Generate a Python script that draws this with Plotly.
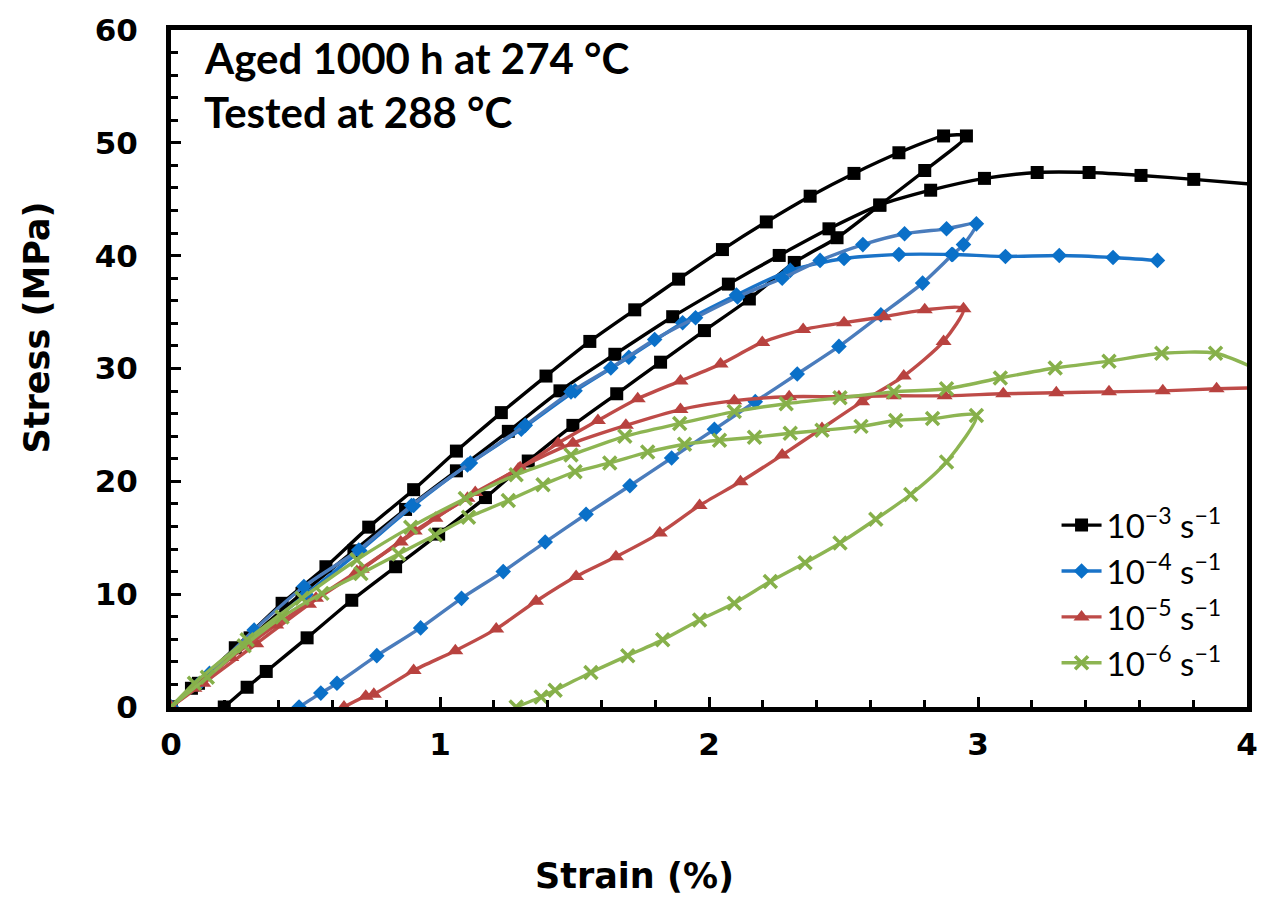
import plotly.graph_objects as go

# ---------------- data (strain in %, stress in MPa) ----------------
# 10^-3 s^-1 : load/unload cycle
strain_r3_cycle = [0, 0.076, 0.239, 0.413, 0.576, 0.735, 0.902, 1.061, 1.228, 1.394, 1.557, 1.724,
                   1.887, 2.050, 2.213, 2.376, 2.539, 2.706, 2.872, 2.957,
                   2.802, 2.635, 2.476, 2.317, 2.150, 1.983, 1.820, 1.657, 1.494, 1.328, 1.169,
                   0.995, 0.835, 0.672, 0.506, 0.354, 0.283, 0.198]
stress_r3_cycle = [0, 1.66, 5.25, 9.19, 12.43, 15.94, 19.26, 22.68, 26.09, 29.33, 32.40, 35.20,
                   37.92, 40.54, 42.99, 45.27, 47.29, 49.12, 50.61, 50.61,
                   47.55, 44.48, 41.59, 39.40, 36.16, 33.36, 30.56, 27.76, 24.96, 21.80, 18.56,
                   15.32, 12.43, 9.46, 6.13, 3.15, 1.75, 0]
# 10^-3 s^-1 : monotonic
strain_r3_mono = [0, 0.102, 0.294, 0.487, 0.680, 0.872, 1.061, 1.254, 1.446, 1.650, 1.865, 2.072,
                  2.261, 2.446, 2.635, 2.824, 3.024, 3.220, 3.413, 3.606, 3.802, 4.04]
stress_r3_mono = [0, 2.10, 6.13, 10.07, 13.84, 17.51, 20.93, 24.43, 28.02, 31.26, 34.59, 37.48,
                  40.02, 42.38, 44.48, 45.80, 46.85, 47.37, 47.37, 47.11, 46.76, 46.30]

# 10^-4 s^-1 : load/unload cycle
strain_r4_cycle = [0, 0.143, 0.309, 0.494, 0.698, 0.894, 1.113, 1.317, 1.487, 1.635, 1.798, 1.950,
                   2.106, 2.272, 2.413, 2.572, 2.727, 2.883, 2.994,
                   2.946, 2.906, 2.794, 2.639, 2.483, 2.328, 2.172, 2.020, 1.861, 1.706, 1.543,
                   1.391, 1.235, 1.080, 0.928, 0.765, 0.617, 0.557, 0.476]
stress_r4_cycle = [0, 2.98, 6.83, 10.68, 13.92, 17.86, 21.63, 24.96, 27.93, 30.04, 32.57, 34.50,
                   36.34, 38.00, 39.58, 40.98, 41.94, 42.38, 42.82,
                   40.98, 40.11, 37.57, 34.76, 31.96, 29.51, 27.06, 24.61, 22.07, 19.61, 17.08,
                   14.62, 12.00, 9.63, 7.01, 4.55, 2.10, 1.23, 0]
# 10^-4 s^-1 : monotonic
strain_r4_mono = [0, 0.102, 0.302, 0.502, 0.702, 0.902, 1.102, 1.302, 1.502, 1.702, 1.902, 2.102,
                  2.302, 2.502, 2.706, 2.902, 3.102, 3.302, 3.502, 3.667]
stress_r4_mono = [0, 2.01, 6.13, 9.98, 13.84, 17.86, 21.45, 24.61, 28.02, 31.00, 34.06, 36.51,
                  38.70, 39.75, 40.11, 40.11, 39.93, 40.02, 39.84, 39.58]

# 10^-5 s^-1 : load/unload cycle
strain_r5_cycle = [0, 0.087, 0.224, 0.391, 0.539, 0.691, 0.854, 0.983, 1.131, 1.291, 1.439, 1.587,
                   1.735, 1.894, 2.043, 2.198, 2.350, 2.502, 2.650, 2.802, 2.946,
                   2.872, 2.724, 2.569, 2.420, 2.272, 2.117, 1.965, 1.817, 1.654, 1.506, 1.357,
                   1.209, 1.057, 0.902, 0.754, 0.724, 0.643]
stress_r5_cycle = [0, 1.66, 4.38, 7.27, 9.63, 12.00, 14.62, 16.73, 19.00, 21.10, 23.38, 25.39,
                   27.32, 28.90, 30.39, 32.31, 33.45, 34.06, 34.59, 35.20, 35.29,
                   32.40, 29.33, 27.06, 24.69, 22.33, 19.96, 17.86, 15.41, 13.31, 11.56, 9.37,
                   6.92, 4.99, 3.24, 1.14, 0.96, 0]
# 10^-5 s^-1 : monotonic
strain_r5_mono = [0, 0.120, 0.317, 0.513, 0.709, 0.906, 1.102, 1.298, 1.494, 1.691, 1.894, 2.094,
                  2.298, 2.483, 2.687, 2.876, 3.094, 3.291, 3.487, 3.687, 3.887, 4.04]
stress_r5_mono = [0, 2.10, 5.60, 9.10, 12.20, 15.60, 18.50, 21.20, 23.38, 24.96, 26.36, 27.15,
                  27.50, 27.50, 27.58, 27.58, 27.76, 27.85, 27.93, 28.02, 28.20, 28.30]

# 10^-6 s^-1 : load/unload cycle
strain_r6_cycle = [0, 0.135, 0.272, 0.413, 0.561, 0.706, 0.846, 0.983, 1.106, 1.254, 1.383, 1.502,
                   1.631, 1.772, 1.909, 2.039, 2.169, 2.302, 2.420, 2.565, 2.694, 2.831, 2.994,
                   2.883, 2.750, 2.620, 2.487, 2.357, 2.228, 2.094, 1.965, 1.828, 1.698, 1.561,
                   1.428, 1.376, 1.283]
stress_r6_cycle = [0, 2.63, 5.43, 7.97, 10.07, 11.82, 13.57, 15.24, 16.81, 18.30, 19.70, 20.84,
                   21.63, 22.59, 23.29, 23.64, 23.91, 24.26, 24.52, 24.87, 25.39, 25.57, 25.83,
                   21.72, 18.83, 16.64, 14.54, 12.78, 11.12, 9.19, 7.71, 5.95, 4.55, 3.06,
                   1.49, 0.88, 0]
# 10^-6 s^-1 : monotonic
strain_r6_mono = [0, 0.087, 0.283, 0.487, 0.691, 0.891, 1.094, 1.283, 1.487, 1.687, 1.891, 2.094,
                  2.287, 2.487, 2.687, 2.883, 3.083, 3.287, 3.487, 3.683, 3.883, 4.04]
stress_r6_mono = [0, 2.10, 5.95, 9.63, 13.05, 15.94, 18.48, 20.58, 22.33, 23.99, 25.13, 26.18,
                  26.88, 27.41, 27.93, 28.20, 29.16, 30.04, 30.65, 31.35, 31.35, 29.90]

rate_labels = ["10<sup>\u22123</sup> s<sup>\u22121</sup>",
               "10<sup>\u22124</sup> s<sup>\u22121</sup>",
               "10<sup>\u22125</sup> s<sup>\u22121</sup>",
               "10<sup>\u22126</sup> s<sup>\u22121</sup>"]

# ---------------- styling ----------------
series = [
    # (label, curves, line colours, marker colour, symbol, marker size)
    (rate_labels[0], [(strain_r3_mono, stress_r3_mono), (strain_r3_cycle, stress_r3_cycle)],
     ["#000000", "#000000"], "#000000", "square", 13),
    (rate_labels[1], [(strain_r4_mono, stress_r4_mono), (strain_r4_cycle, stress_r4_cycle)],
     ["#1a73c8", "#4a7cbc"], "#0a70c8", "diamond", 12),
    (rate_labels[2], [(strain_r5_mono, stress_r5_mono), (strain_r5_cycle, stress_r5_cycle)],
     ["#be4b48", "#be4b48"], "#b8423f", "triangle-up", 14),
    (rate_labels[3], [(strain_r6_mono, stress_r6_mono), (strain_r6_cycle, stress_r6_cycle)],
     ["#8db552", "#8db552"], "#86b04a", "x-thin", 13),
]

fig = go.Figure()
for label, curves, line_cols, mcol, sym, msize in series:
    for i, ((xs, ys), lc) in enumerate(zip(curves, line_cols)):
        marker = dict(symbol=sym, size=msize, color=mcol)
        if sym == "x-thin":
            marker["line"] = dict(color=mcol, width=3.5)
        fig.add_trace(go.Scatter(
            x=xs, y=ys, mode="lines+markers", name=label,
            legendgroup=label, showlegend=(i == 0),
            line=dict(color=lc, width=3.4, shape="spline", smoothing=0.7),
            marker=marker, cliponaxis=True,
        ))

tick_font = dict(family="DejaVu Sans", size=31, color="black", weight="bold")
title_font = dict(family="DejaVu Sans", size=35, color="black", weight="bold")

axis_common = dict(
    showline=True, linecolor="black", linewidth=5, mirror=True,
    showgrid=False, zeroline=False,
    ticks="inside", tickcolor="black", tickwidth=3,
    tickfont=tick_font,
)

fig.update_xaxes(
    range=[0, 4], dtick=1, ticklen=10, ticklabelstandoff=6,
    minor=dict(dtick=0.2, ticks="inside", ticklen=7, tickwidth=3, tickcolor="black"),
    **axis_common,
)
fig.update_yaxes(
    range=[0, 60], dtick=10, ticklen=10, ticklabelstandoff=22,
    minor=dict(dtick=2, ticks="inside", ticklen=7, tickwidth=3, tickcolor="black"),
    **axis_common,
)

# axis titles
fig.add_annotation(x=0.431, y=-0.25, xref="paper", yref="paper",
                   xanchor="center", yanchor="middle", showarrow=False,
                   text="Strain (%)", font=title_font)
fig.add_annotation(x=-0.125, y=0.56, xref="paper", yref="paper",
                   xanchor="center", yanchor="middle", showarrow=False,
                   text="Stress (MPa)", textangle=-90, font=title_font)

# test conditions
for txt, yy in [("Aged 1000 h at 274 \u00b0C", 0.959), ("Tested at 288 \u00b0C", 0.879)]:
    fig.add_annotation(
        x=0.029, y=yy, xref="paper", yref="paper", xanchor="left", yanchor="middle",
        text=txt, showarrow=False,
        font=dict(family="Lato", size=42, color="black", weight="bold"),
    )

fig.update_layout(
    width=1270, height=901,
    margin=dict(l=171, r=20, t=22, b=194),
    paper_bgcolor="white", plot_bgcolor="white",
    showlegend=True,
    legend=dict(
        x=0.823, y=0.31, xanchor="left", yanchor="top",
        bgcolor="rgba(255,255,255,0)", borderwidth=0,
        font=dict(family="Lato", size=33, color="black"),
        itemwidth=40, tracegroupgap=0,
    ),
)

fig.write_html("out.html")
